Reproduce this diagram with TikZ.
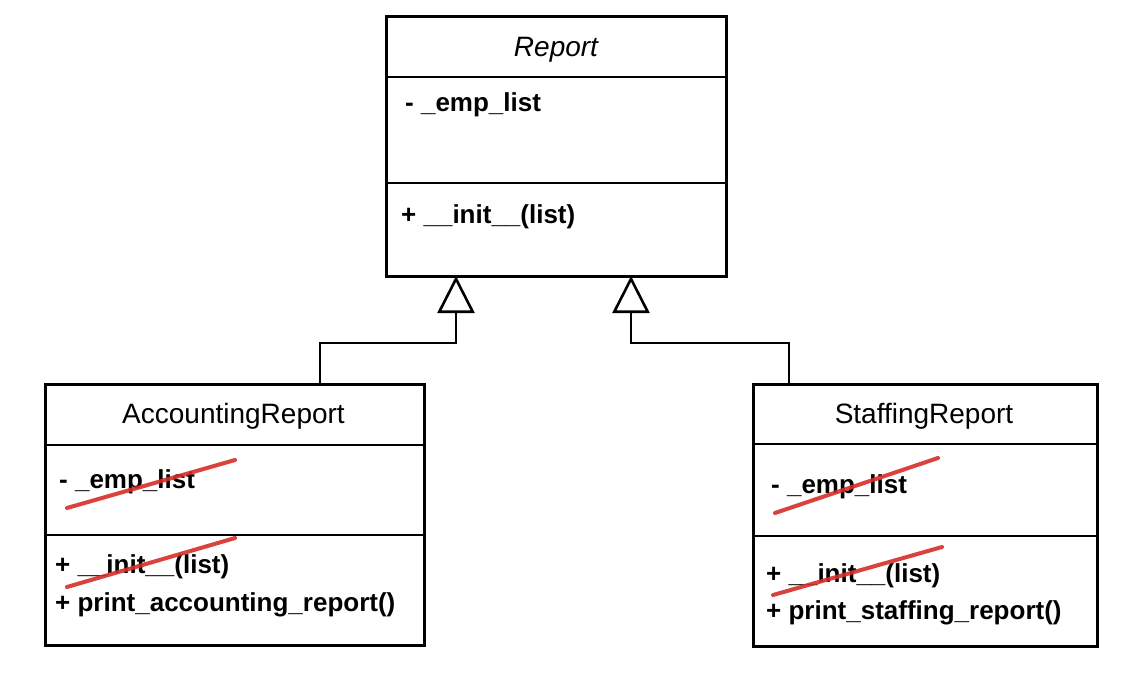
\documentclass[tikz,border=0pt]{standalone}
\usepackage{fontspec}
\setmainfont{Liberation Sans}
\usetikzlibrary{arrows.meta}
\definecolor{strike}{RGB}{214,45,40}
\tikzset{
  classbox/.style={draw=black, line width=2.6pt, rectangle, anchor=north west, inner sep=0pt},
  sep/.style={draw=black, line width=2.6pt},
  ttl/.style={font=\fontsize{28}{32}\selectfont, anchor=base, inner sep=0pt},
  itm/.style={font=\fontsize{26}{30}\selectfont\bfseries, anchor=base west, inner sep=0pt},
  inherit/.style={draw=black, line width=2.6pt, -{Triangle[open, length=37pt, width=37pt, line width=2.6pt]}},
  strikeout/.style={draw=strike, line width=4pt, opacity=0.9, line cap=round}
}
\begin{document}
\begin{tikzpicture}[x=1pt, y=-1pt]
\useasboundingbox (0,0) rectangle (1148,679);
% Report
\node[classbox, minimum width=340pt, minimum height=260pt] (rep) at (385,15) {};
\draw[sep] (385,77) -- (725,77);
\draw[sep] (385,183) -- (725,183);
\node[ttl] (repT) at (556,57) {\itshape Report};
\node[itm] (repA) at (405,112) {- \_emp\_list};
\node[itm] (repM) at (401,223) {+ \_\_init\_\_(list)};
% AccountingReport
\node[classbox, minimum width=379pt, minimum height=261pt] (acc) at (44,383) {};
\draw[sep] (44,445) -- (423,445);
\draw[sep] (44,535) -- (423,535);
\node[ttl] (accT) at (233.5,423) {AccountingReport};
\node[itm] (accA) at (59,488) {- \_emp\_list};
\node[itm] (accM1) at (55,573) {+ \_\_init\_\_(list)};
\node[itm] (accM2) at (55,611) {+ print\_accounting\_report()};
% StaffingReport
\node[classbox, minimum width=344pt, minimum height=262pt] (stf) at (752,383) {};
\draw[sep] (752,444) -- (1096,444);
\draw[sep] (752,536) -- (1096,536);
\node[ttl] (stfT) at (924,423) {StaffingReport};
\node[itm] (stfA) at (771,493) {- \_emp\_list};
\node[itm] (stfM1) at (766,582) {+ \_\_init\_\_(list)};
\node[itm] (stfM2) at (766,619) {+ print\_staffing\_report()};
% strike-outs
\draw[strikeout] (67,508) -- (235,460);
\draw[strikeout] (67,587) -- (235,538);
\draw[strikeout] (775,513) -- (938,458);
\draw[strikeout] (773,595) -- (942,547);
% inheritance
\coordinate (accTop) at (320,383);
\coordinate (repL) at (456,276);
\coordinate (stfTop) at (789,383);
\coordinate (repR) at (631,276);
\draw[inherit] (accTop) |- (456,343) -- (repL);
\draw[inherit] (stfTop) |- (631,343) -- (repR);
\end{tikzpicture}
\end{document}
